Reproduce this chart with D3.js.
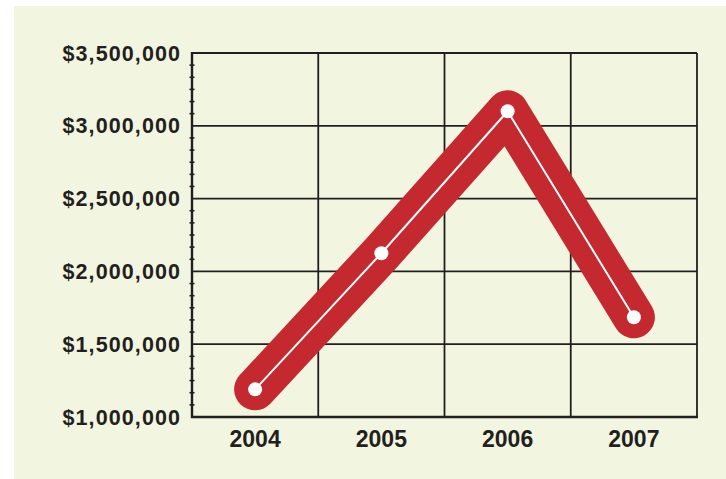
<!DOCTYPE html>
<html>
<head>
<meta charset="utf-8">
<script src="https://cdn.jsdelivr.net/npm/d3@7"></script>
<style>
  html, body { margin: 0; padding: 0; background: #ffffff; }
  svg { display: block; }
  text { font-family: "Liberation Sans", Arial, Helvetica, sans-serif; font-weight: bold; fill: #231f20; }
</style>
</head>
<body>
<svg id="chart" width="726" height="479"></svg>
<script>
// Yearly totals
const years = ["2004", "2005", "2006", "2007"];
const amounts = [1190000, 2125000, 3100000, 1685000];
const yTicks = [1000000, 1500000, 2000000, 2500000, 3000000, 3500000];
const minorPerMajor = 6;

const W = 726, H = 479;
const margin = { left: 192, right: 29, top: 53, bottom: 62 };

const svg = d3.select("#chart");

// panel background
svg.append("rect")
  .attr("x", 14).attr("y", 6)
  .attr("width", W - 14).attr("height", H - 6)
  .attr("fill", "#f2f6e0");

const x = d3.scaleBand()
  .domain(years)
  .range([margin.left, W - margin.right])
  .padding(0);

const y = d3.scaleLinear()
  .domain([d3.min(yTicks), d3.max(yTicks)])
  .range([H - margin.bottom, margin.top]);

const ink = "#231f20";
const fmt = d3.format("$,");

// horizontal grid lines
svg.append("g").selectAll("line")
  .data(yTicks)
  .join("line")
  .attr("x1", margin.left).attr("x2", W - margin.right)
  .attr("y1", d => y(d)).attr("y2", d => y(d))
  .attr("stroke", ink).attr("stroke-width", 1.8);

// vertical grid lines at category boundaries
const bounds = years.slice(1).map(d => x(d)).concat([x.range()[1]]);
svg.append("g").selectAll("line")
  .data(bounds)
  .join("line")
  .attr("x1", d => d).attr("x2", d => d)
  .attr("y1", margin.top).attr("y2", H - margin.bottom)
  .attr("stroke", ink).attr("stroke-width", 1.8);

// minor ticks on the value axis
const minor = [];
for (let i = 0; i < yTicks.length - 1; i++) {
  const step = (yTicks[i + 1] - yTicks[i]) / minorPerMajor;
  for (let k = 1; k < minorPerMajor; k++) minor.push(yTicks[i] + k * step);
}
svg.append("g").selectAll("line")
  .data(minor)
  .join("line")
  .attr("x1", margin.left - 2.5).attr("x2", margin.left + 2.5)
  .attr("y1", d => y(d)).attr("y2", d => y(d))
  .attr("stroke", ink).attr("stroke-width", 1.6);

// axis lines
svg.append("line")
  .attr("x1", margin.left).attr("x2", margin.left)
  .attr("y1", margin.top - 1).attr("y2", H - margin.bottom + 1)
  .attr("stroke", ink).attr("stroke-width", 2.4);
svg.append("line")
  .attr("x1", margin.left - 1).attr("x2", W - margin.right + 1)
  .attr("y1", H - margin.bottom).attr("y2", H - margin.bottom)
  .attr("stroke", ink).attr("stroke-width", 2.4);

// value labels
svg.append("g").selectAll("text")
  .data(yTicks)
  .join("text")
  .attr("x", margin.left - 12 + 1.1)
  .attr("y", d => y(d))
  .attr("dy", "0.35em")
  .attr("text-anchor", "end")
  .attr("font-size", 21.5)
  .attr("letter-spacing", 1.1)
  .text(d => fmt(d));

// year labels
svg.append("g").selectAll("text")
  .data(years)
  .join("text")
  .attr("x", d => x(d) + x.bandwidth() / 2)
  .attr("y", H - margin.bottom + 30)
  .attr("text-anchor", "middle")
  .attr("font-size", 23)
  .text(d => d);

const pts = years.map((d, i) => [x(d) + x.bandwidth() / 2, y(amounts[i])]);
const line = d3.line();

// thick red band
svg.append("path")
  .attr("d", line(pts))
  .attr("fill", "none")
  .attr("stroke", "#c4292f")
  .attr("stroke-width", 42)
  .attr("stroke-linecap", "round")
  .attr("stroke-linejoin", "round");

// thin white centre line
svg.append("path")
  .attr("d", line(pts))
  .attr("fill", "none")
  .attr("stroke", "#ffffff")
  .attr("stroke-width", 2);

// white markers
svg.append("g").selectAll("circle")
  .data(pts)
  .join("circle")
  .attr("cx", d => d[0]).attr("cy", d => d[1])
  .attr("r", 7)
  .attr("fill", "#ffffff");
</script>
</body>
</html>
